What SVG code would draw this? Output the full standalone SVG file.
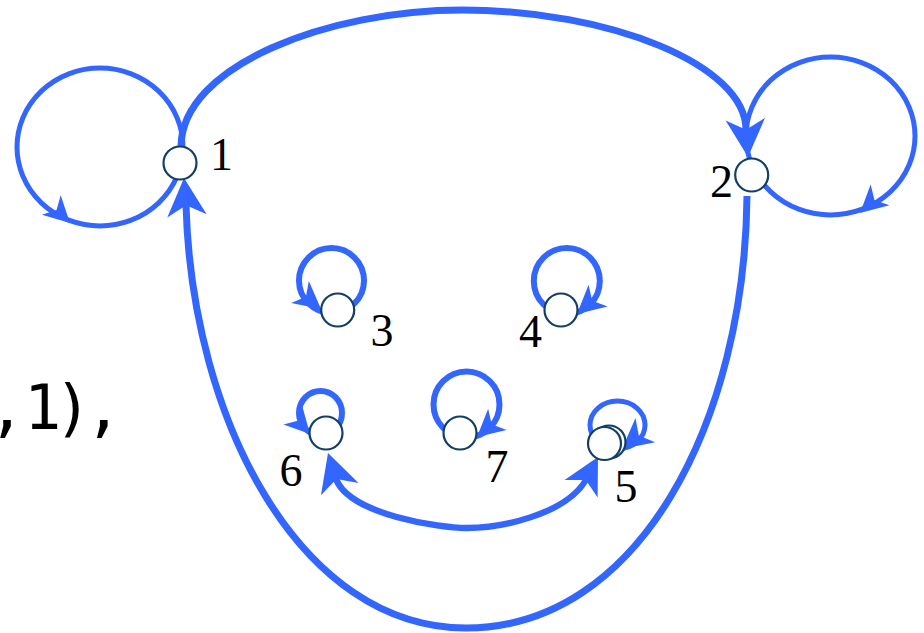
<svg xmlns="http://www.w3.org/2000/svg" xmlns:xlink="http://www.w3.org/1999/xlink" width="924" height="633" viewBox="0 0 924 633">
<style>
.e{fill:none;stroke:#3366ff;stroke-linecap:butt}
.big{stroke-width:7}
.mid{stroke-width:6.3}
.lp{stroke-width:5}
.sl{stroke-width:6}
.ah{fill:#3366ff}
.nd{fill:#ffffff;stroke:#123f66;stroke-width:2.2}
.lb{font-family:"Liberation Serif","Times New Roman",serif;font-size:46px;fill:#000;text-anchor:middle}
.code{font-family:"DejaVu Sans Mono","Liberation Mono",monospace;font-size:62px;letter-spacing:-7px;fill:#000}
</style>
<defs>
<path id="ah" d="M0,0 L-1,-0.52 L-0.72,0 L-1,0.52 Z"/>
</defs>
<rect width="924" height="633" fill="#ffffff"/>
<text class="code" x="-12" y="429">,<tspan x="24">1),</tspan></text>
<g id="connectors">
<ellipse class="e lp" cx="100" cy="147" rx="83" ry="79"/>
<ellipse class="e lp" cx="830.5" cy="136" rx="84.5" ry="79"/>
<circle class="e sl" cx="331.5" cy="280.5" r="32.5"/>
<circle class="e sl" cx="566.8" cy="281" r="33"/>
<ellipse class="e sl" cx="320.5" cy="413" rx="21.5" ry="22"/>
<circle class="e sl" cx="466.5" cy="404.5" r="33"/>
<ellipse class="e lp" cx="617.5" cy="425" rx="27.5" ry="24"/>
<path class="e big" d="M181,147 C181,65 330,10 462,10 C610,10 746,65 746,130"/>
<path class="e big" d="M747,196 C745,420 640,628 466,628 C300,628 192,420 186,205"/>
<path class="e mid" d="M336,479 C350,515 440,528 467,528 C500,528 565,515 586,480"/>
<use xlink:href="#ah" class="ah" transform="translate(184,178) rotate(-94.5) scale(38)"/>
<use xlink:href="#ah" class="ah" transform="translate(748,157) rotate(86) scale(38)"/>
<use xlink:href="#ah" class="ah" transform="translate(70,223) rotate(44) scale(26)"/>
<use xlink:href="#ah" class="ah" transform="translate(860,213) rotate(138) scale(27)"/>
<use xlink:href="#ah" class="ah" transform="translate(321,309) rotate(39) scale(27)"/>
<use xlink:href="#ah" class="ah" transform="translate(577,314) rotate(139) scale(28)"/>
<use xlink:href="#ah" class="ah" transform="translate(310,434) rotate(47) scale(25)"/>
<use xlink:href="#ah" class="ah" transform="translate(477,437) rotate(139) scale(27)"/>
<use xlink:href="#ah" class="ah" transform="translate(622,449) rotate(141) scale(30)"/>
<use xlink:href="#ah" class="ah" transform="translate(328,453) rotate(-108) scale(38)"/>
<use xlink:href="#ah" class="ah" transform="translate(598,457) rotate(-62) scale(36)"/>
</g>
<g id="node1"><circle class="nd" cx="180" cy="163" r="16.5"/><text class="lb" x="221.5" y="170">1</text></g>
<g id="node2"><circle class="nd" cx="751.7" cy="175" r="16.5"/><text class="lb" x="721.5" y="197">2</text></g>
<g id="node3"><circle class="nd" cx="337.7" cy="310" r="16.5"/><text class="lb" x="382" y="346">3</text></g>
<g id="node4"><circle class="nd" cx="561" cy="310" r="16.5"/><text class="lb" x="530.5" y="347">4</text></g>
<g id="node5"><circle class="nd" cx="609" cy="442" r="16.5" stroke-width="2.6"/><circle class="nd" cx="604.5" cy="443.5" r="16.5"/><text class="lb" x="626" y="502">5</text></g>
<g id="node6"><circle class="nd" cx="326" cy="433" r="16.5"/><text class="lb" x="291" y="486">6</text></g>
<g id="node7"><circle class="nd" cx="460" cy="433" r="16.5"/><text class="lb" x="497" y="482">7</text></g>
</svg>
